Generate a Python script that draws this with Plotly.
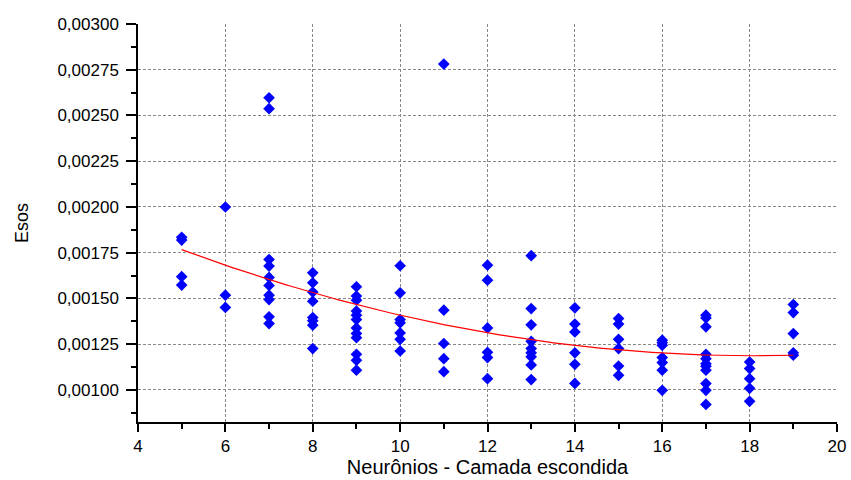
import numpy as np
import plotly.graph_objects as go

# Neurons in hidden layer -> list of error values (Esos)
neurons = [5, 6, 7, 8, 9, 10, 11, 12, 13, 14, 15, 16, 17, 18, 19]
esos = {
    5: [0.001834, 0.001819, 0.001619, 0.001573],
    6: [0.002000, 0.001518, 0.001451],
    7: [0.002597, 0.002537, 0.001713, 0.001677, 0.001615, 0.001571, 0.001518, 0.001494, 0.001400, 0.001363],
    8: [0.001640, 0.001586, 0.001535, 0.001485, 0.001396, 0.001378, 0.001354, 0.001226],
    9: [0.001564, 0.001513, 0.001491, 0.001431, 0.001409, 0.001385, 0.001339, 0.001308, 0.001286, 0.001195, 0.001162, 0.001108],
    10: [0.001679, 0.001531, 0.001385, 0.001367, 0.001312, 0.001277, 0.001213],
    11: [0.002781, 0.001436, 0.001254, 0.001171, 0.001100],
    12: [0.001682, 0.001600, 0.001339, 0.001206, 0.001177, 0.001062],
    13: [0.001734, 0.001445, 0.001356, 0.001266, 0.001226, 0.001203, 0.001181, 0.001137, 0.001057],
    14: [0.001449, 0.001360, 0.001317, 0.001203, 0.001140, 0.001036],
    15: [0.001390, 0.001360, 0.001277, 0.001226, 0.001131, 0.001080],
    16: [0.001272, 0.001258, 0.001244, 0.001177, 0.001150, 0.001108, 0.000998],
    17: [0.001409, 0.001394, 0.001345, 0.001195, 0.001171, 0.001144, 0.001130, 0.001108, 0.001035, 0.000998, 0.000921],
    18: [0.001153, 0.001117, 0.001062, 0.001009, 0.000938],
    19: [0.001467, 0.001423, 0.001308, 0.001203, 0.001190],
}

xs = [n for n in neurons for _ in esos[n]]
ys = [v for n in neurons for v in esos[n]]

# second-order polynomial fit of the data
coef = np.polyfit(xs, ys, 2)
xf = np.linspace(min(neurons), max(neurons), 200)
yf = np.polyval(coef, xf)

font = "Liberation Sans, Arial, sans-serif"

fig = go.Figure()
fig.add_trace(go.Scatter(
    x=xs, y=ys, mode="markers",
    marker=dict(symbol="diamond", size=9, color="#0000ff", line=dict(width=0)),
    showlegend=False, hoverinfo="x+y"))
fig.add_trace(go.Scatter(
    x=xf, y=yf, mode="lines", line=dict(color="#ff0000", width=1.2),
    showlegend=False, hoverinfo="skip"))

fig.update_layout(
    width=851, height=480,
    margin=dict(l=138, r=14, t=24, b=58),
    paper_bgcolor="white", plot_bgcolor="white",
    separators=",.",
    font=dict(family=font, size=17, color="black"),
    xaxis=dict(
        range=[4, 20], tick0=4, dtick=2, automargin=False,
        showline=True, linecolor="black", linewidth=1.5,
        ticks="outside", ticklen=8, tickwidth=1.5, tickcolor="black",
        minor=dict(dtick=1, ticks="outside", ticklen=5, tickwidth=1.5, tickcolor="black", showgrid=False),
        showgrid=True, gridcolor="#888888", griddash="3px,2px", gridwidth=1,
        zeroline=False,
        title=dict(text="Neurônios - Camada escondida", font=dict(size=20), standoff=2),
    ),
    yaxis=dict(
        range=[0.000825, 0.003], tick0=0.001, dtick=0.00025, tickformat=".5f",
        automargin=False, ticklabelstandoff=4,
        showline=True, linecolor="black", linewidth=1.5,
        ticks="outside", ticklen=10, tickwidth=1.5, tickcolor="black",
        minor=dict(dtick=0.000125, ticks="outside", ticklen=5, tickwidth=1.5, tickcolor="black", showgrid=False),
        showgrid=True, gridcolor="#888888", griddash="3px,2px", gridwidth=1,
        zeroline=False,
        title=dict(text="Esos", font=dict(size=18), standoff=24),
    ),
)

fig.write_html(
    "out.html",
    config={"displayModeBar": False},
    post_script="document.body.style.margin='0';document.body.style.overflow='hidden';",
)
